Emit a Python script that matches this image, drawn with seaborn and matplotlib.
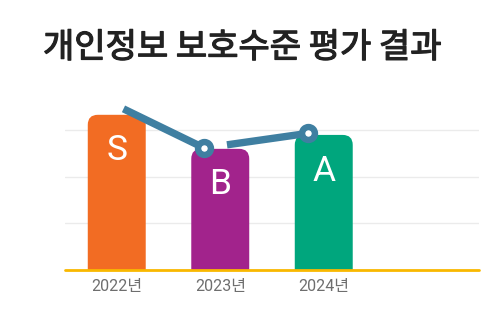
import numpy as np
import pandas as pd
import matplotlib
matplotlib.use("Agg")
import matplotlib.pyplot as plt
import matplotlib.patheffects as pe
from matplotlib.patches import FancyBboxPatch
import seaborn as sns

# Data
years = ["2022년", "2023년", "2024년"]
bar_scores = [100, 78, 87]
grades = ["S", "B", "A"]
trend_scores = [111, 78.5, 88]
bar_colors = ["#F26C23", "#A2238C", "#00A67D"]

title = "개인정보 보호수준 평가 결과"

sns.set_theme(style="white")
plt.rcParams["font.family"] = ["Roboto", "Noto Sans CJK KR", "DejaVu Sans"]

df = pd.DataFrame({"year": years, "score": bar_scores, "grade": grades})

fig = plt.figure(figsize=(5.0, 3.2), dpi=100)
ax = fig.add_axes([65 / 500, (320 - 269.5) / 320, 414 / 500, (269.5 - 80) / 320])

sns.barplot(data=df, x="year", y="score", hue="year", palette=bar_colors,
            width=0.56, legend=False, ax=ax, saturation=1)

ax.set_xlim(-0.5, 3.5)
ax.set_ylim(0, 122.5)
ax.set_yticks([30, 60, 90])
ax.set_yticklabels([])
ax.yaxis.grid(True, color="#EBEBEB", linewidth=1)
ax.xaxis.grid(False)
ax.set_axisbelow(True)
for s in ax.spines.values():
    s.set_visible(False)
ax.set_xlabel("")
ax.set_ylabel("")
ax.set_xticks(range(len(years)))
ax.set_xticklabels(years, fontsize=11.5, color="#6E6E6E")
ax.tick_params(axis="x", length=0, pad=7)
ax.tick_params(axis="y", length=0)

# Rounded top corners for the bars
fig.canvas.draw()
px_x = ax.transData.transform((1, 0))[0] - ax.transData.transform((0, 0))[0]
px_y = ax.transData.transform((0, 1))[1] - ax.transData.transform((0, 0))[1]
radius_px = 10
rs = radius_px / px_x
aspect = px_x / px_y
ry = radius_px / px_y
for p in list(ax.patches):
    x, w, h = p.get_x(), p.get_width(), p.get_height()
    fc = p.get_facecolor()
    p.remove()
    ax.add_patch(FancyBboxPatch((x, -ry), w, h + ry,
                                boxstyle=f"round,pad=0,rounding_size={rs}",
                                mutation_aspect=aspect, fc=fc, ec="none",
                                clip_on=True, zorder=2))

# Grade labels inside the bars
for i, (v, g) in enumerate(zip(bar_scores, grades)):
    ax.annotate(g, (i, v), xytext=(0, -26), textcoords="offset points",
                ha="center", va="center", color="white", fontsize=25.5,
                zorder=5)

# Baseline
ax.axhline(0, color="#F9B800", linewidth=2, zorder=3, clip_on=False)

# Trend line with gaps after each point
line_color = "#3F7FA1"
xs = np.arange(len(years)) - 0.155
gap = 0.22
for i in range(len(xs) - 1):
    x0, y0 = xs[i], trend_scores[i]
    x1, y1 = xs[i + 1], trend_scores[i + 1]
    sx, sy = x0 + gap * (x1 - x0), y0 + gap * (y1 - y0)
    ax.plot([sx, x1], [sy, y1], color=line_color, linewidth=5.3,
            solid_capstyle="butt", zorder=4, clip_on=False)
ax.plot(xs[1:], trend_scores[1:], "o", color=line_color, markersize=9.3,
        markeredgewidth=4.6, markerfacecolor="white",
        markeredgecolor=line_color, zorder=5, clip_on=False)

fig.text(43 / 500, 1 - 48 / 320, title, fontsize=24.5, fontweight="normal",
         color="#222222", ha="left", va="center",
         family=["Noto Sans CJK KR", "DejaVu Sans"],
         path_effects=[pe.withStroke(linewidth=0.9, foreground="#222222")])

fig.savefig("out.png", dpi=100, facecolor="white")
